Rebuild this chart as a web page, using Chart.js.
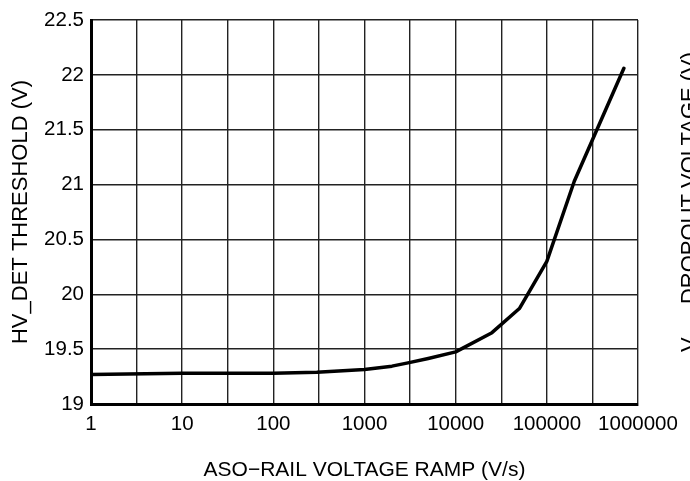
<!DOCTYPE html>
<html>
<head>
<meta charset="utf-8">
<script src="https://cdn.jsdelivr.net/npm/chart.js@4/dist/chart.umd.min.js"></script>
<style>
  html, body { margin: 0; padding: 0; background: #fff; }
  #wrap { width: 690px; height: 481px; position: relative; }
</style>
</head>
<body>
<div id="wrap"><canvas id="chart"></canvas></div>
<script>
// ramp rate (V/s) and threshold (V)
const rampValues = [1, 10, 100, 300, 1000, 2000, 3000, 5000, 10000, 25000, 50000, 100000, 200000, 700000];
const thresholdValues = [19.27, 19.28, 19.28, 19.29, 19.315, 19.345, 19.375, 19.415, 19.475, 19.65, 19.87, 20.3, 21.03, 22.06];

// grid every half decade, labels on the decades
const xGridValues = [1, 3.1623, 10, 31.623, 100, 316.23, 1000, 3162.3, 10000, 31623, 100000, 316230, 1000000];
const xLabelValues = [1, 10, 100, 1000, 10000, 100000, 1000000];

const FONT = "'Liberation Sans', Arial, Helvetica, sans-serif";

// the cut off right hand axis title
const rightTitle = {
  id: "rightTitle",
  afterDraw(chart) {
    const ctx = chart.ctx;
    ctx.save();
    ctx.translate(679, 352);
    ctx.rotate(-Math.PI / 2);
    ctx.fillStyle = "#000";
    ctx.textBaseline = "top";
    ctx.textAlign = "left";
    ctx.font = "22px " + FONT;
    ctx.fillText("V", 0, 0);
    let x = ctx.measureText("V").width;
    ctx.font = "14px " + FONT;
    ctx.fillText("DO", x, 10);
    x += ctx.measureText("DO").width;
    ctx.font = "22px " + FONT;
    ctx.fillText(", DROPOUT VOLTAGE (V)", x, 0);
    ctx.restore();
  }
};

new Chart(document.getElementById("chart"), {
  type: "line",
  data: {
    datasets: [{
      data: rampValues.map((v, i) => ({ x: v, y: thresholdValues[i] })),
      borderColor: "#000",
      borderWidth: 3.5,
      borderCapStyle: "round",
      borderJoinStyle: "round",
      pointRadius: 0,
      tension: 0,
      fill: false
    }]
  },
  options: {
    responsive: true,
    maintainAspectRatio: false,
    animation: false,
    events: [],
    layout: { padding: { top: 20, right: 52, left: 0, bottom: 0 } },
    plugins: {
      legend: { display: false },
      tooltip: { enabled: false }
    },
    scales: {
      x: {
        type: "logarithmic",
        min: 1,
        max: 1000000,
        afterBuildTicks: (scale) => {
          scale.ticks = xGridValues.map((v) => ({ value: v }));
        },
        afterFit: (scale) => { scale.height = 77; },
        ticks: {
          autoSkip: false,
          maxRotation: 0,
          padding: 8,
          color: "#000",
          font: { family: FONT, size: 20.5 },
          callback: (value) => xLabelValues.includes(value) ? String(value) : ""
        },
        grid: { color: "#222", lineWidth: 1.4, drawTicks: false },
        border: { color: "#000", width: 3 },
        title: {
          display: true,
          text: "ASO\u2212RAIL VOLTAGE RAMP (V/s)",
          color: "#000",
          font: { family: FONT, size: 21, lineHeight: 1 },
          padding: { top: 0, bottom: 0 }
        }
      },
      y: {
        min: 19,
        max: 22.5,
        afterFit: (scale) => { scale.width = 91; },
        ticks: {
          stepSize: 0.5,
          padding: 7,
          color: "#000",
          font: { family: FONT, size: 20.5 },
          callback: (value) => String(value)
        },
        grid: { color: "#222", lineWidth: 1.4, drawTicks: false },
        border: { color: "#000", width: 3 },
        title: {
          display: true,
          text: "HV_DET THRESHOLD (V)",
          color: "#000",
          font: { family: FONT, size: 22, lineHeight: 1.2 },
          padding: { top: 8, bottom: 0 }
        }
      }
    }
  },
  plugins: [rightTitle]
});
</script>
</body>
</html>
